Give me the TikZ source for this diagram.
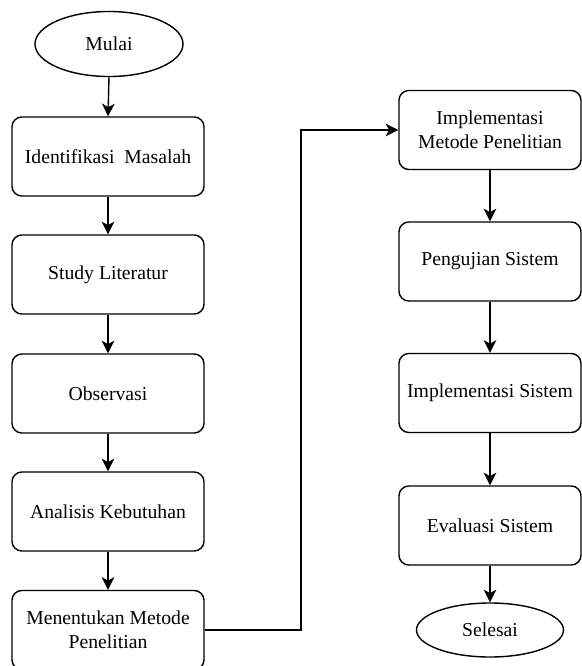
\documentclass[tikz,border=0pt]{standalone}
\usepackage{fontspec}
\setmainfont{Liberation Serif}
\usetikzlibrary{arrows.meta,shapes.geometric}

\tikzset{
	kotak/.style={draw=black, line width=1pt, rounded corners=7pt, align=center,
		minimum width=4.8cm, minimum height=1.975cm, inner sep=2pt,
		font=\fontsize{14}{17}\selectfont},
	terminal/.style={draw=black, line width=1pt, ellipse, inner sep=0pt,
		font=\fontsize{14}{17}\selectfont},
	panah/.style={line width=1pt, -{Stealth[length=9pt, width=9pt, inset=2.5pt]}}
}

\begin{document}
\begin{tikzpicture}[x=0.025cm, y=-0.025cm]
	\useasboundingbox (0,0) rectangle (582,666);

	\pgfmathsetmacro{\xa}{108}
	\pgfmathsetmacro{\xb}{490}

	% Kolom kiri
	\node[terminal, minimum width=3.7cm, minimum height=1.625cm] (mulai) at (109,44) {Mulai};
	\node[kotak] (identifikasi) at (\xa,156.5) {Identifikasi\ \ Masalah};
	\node[kotak] (literatur) at (\xa,274.5) {Study Literatur};
	\node[kotak] (observasi) at (\xa,393.5) {Observasi};
	\node[kotak] (analisis) at (\xa,511.5) {Analisis Kebutuhan};
	\node[kotak] (metode) at (\xa,630) {Menentukan Metode\\Penelitian};

	% Kolom kanan
	\node[kotak, minimum width=4.55cm] (implmetode) at (\xb,130) {Implementasi\\Metode Penelitian};
	\node[kotak, minimum width=4.55cm] (pengujian) at (\xb,261.5) {Pengujian Sistem};
	\node[kotak, minimum width=4.55cm] (implsistem) at (\xb,393) {Implementasi Sistem};
	\node[kotak, minimum width=4.55cm] (evaluasi) at (\xb,525.5) {Evaluasi Sistem};
	\node[terminal, minimum width=3.675cm, minimum height=1.35cm] (selesai) at (\xb,630) {Selesai};

	% Panah
	\foreach \a/\b in {mulai/identifikasi, identifikasi/literatur, literatur/observasi,
		observasi/analisis, analisis/metode, implmetode/pengujian,
		pengujian/implsistem, implsistem/evaluasi, evaluasi/selesai}
	{
	\draw[panah] (\a.south) -- (\b.north);
	}
	\coordinate (belok) at (301,630);
	\draw[panah] (metode.east) -- (belok) |- (implmetode.west);

\end{tikzpicture}
\end{document}
